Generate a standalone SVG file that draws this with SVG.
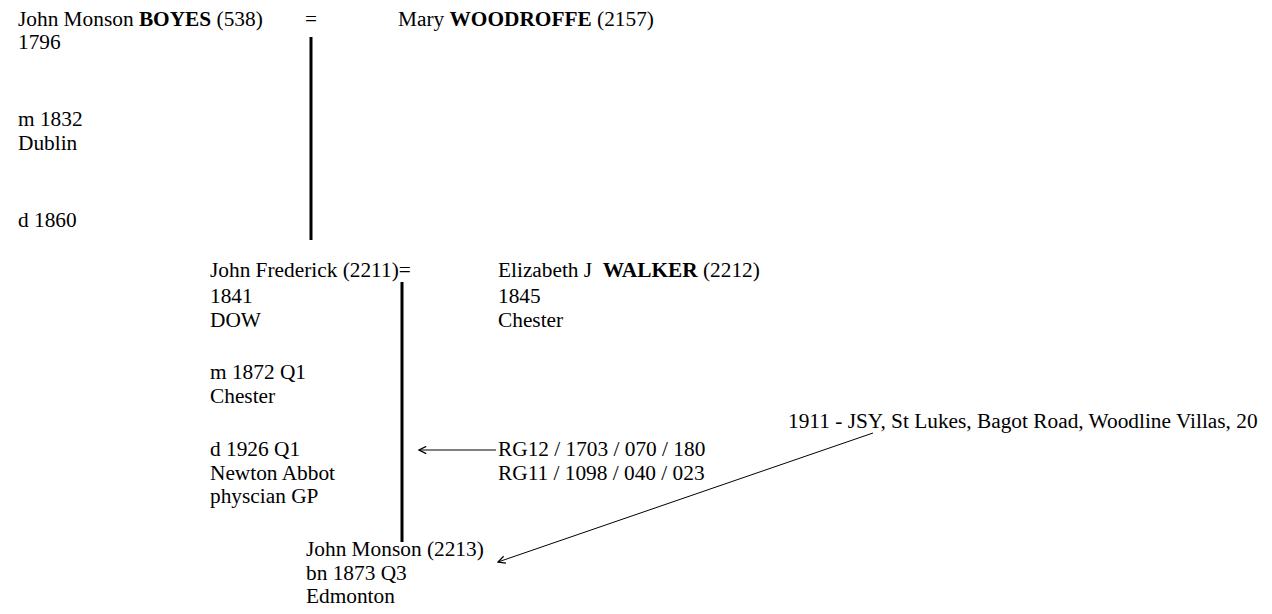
<svg xmlns="http://www.w3.org/2000/svg" width="1272" height="614" viewBox="0 0 1272 614">
<defs>
<style>
text{font-family:"Liberation Serif","Times New Roman",serif;font-size:21.33px;fill:#000;white-space:pre}
.b{font-weight:bold}
.desc{stroke:#000;stroke-width:3;fill:none}
.ref{stroke:#000;stroke-width:1;fill:none}
</style>
<marker id="ah" viewBox="0 0 10 10" refX="9" refY="5" markerWidth="9" markerHeight="9" markerUnits="userSpaceOnUse" orient="auto">
<path d="M1,1 L9,5 L1,9" fill="none" stroke="#000" stroke-width="1.4"/>
</marker>
</defs>
<rect width="1272" height="614" fill="#fff"/>
<g id="connectors">
<line class="desc" x1="311" y1="37" x2="311" y2="240"/>
<line class="desc" x1="402" y1="282" x2="402" y2="542"/>
<line class="ref" x1="496" y1="450" x2="419" y2="450" marker-end="url(#ah)"/>
<line class="ref" x1="873" y1="433" x2="498" y2="562" marker-end="url(#ah)"/>
</g>
<g id="boyes">
<text x="18" y="26">John Monson <tspan class="b">BOYES</tspan> (538)</text>
<text x="18" y="49">1796</text>
<text x="18" y="126">m 1832</text>
<text x="18" y="150">Dublin</text>
<text x="18" y="227">d 1860</text>
</g>
<g id="marriage1"><text x="305" y="26">=</text></g>
<g id="woodroffe">
<text x="398" y="26">Mary <tspan class="b">WOODROFFE</tspan> (2157)</text>
</g>
<g id="john-frederick">
<text x="210" y="277">John Frederick (2211)=</text>
<text x="210" y="303">1841</text>
<text x="210" y="327">DOW</text>
<text x="210" y="379">m 1872 Q1</text>
<text x="210" y="403">Chester</text>
<text x="210" y="456">d 1926 Q1</text>
<text x="210" y="480">Newton Abbot</text>
<text x="210" y="503">physcian GP</text>
</g>
<g id="walker">
<text x="498" y="277">Elizabeth J  <tspan class="b">WALKER</tspan> (2212)</text>
<text x="498" y="303">1845</text>
<text x="498" y="327">Chester</text>
</g>
<g id="census">
<text x="498" y="456">RG12 / 1703 / 070 / 180</text>
<text x="498" y="480">RG11 / 1098 / 040 / 023</text>
</g>
<g id="census1911">
<text x="788" y="428">1911 - JSY, St Lukes, Bagot Road, Woodline Villas, 20</text>
</g>
<g id="john-monson">
<text x="306" y="556">John Monson (2213)</text>
<text x="306" y="580">bn 1873 Q3</text>
<text x="306" y="603">Edmonton</text>
</g>
</svg>
